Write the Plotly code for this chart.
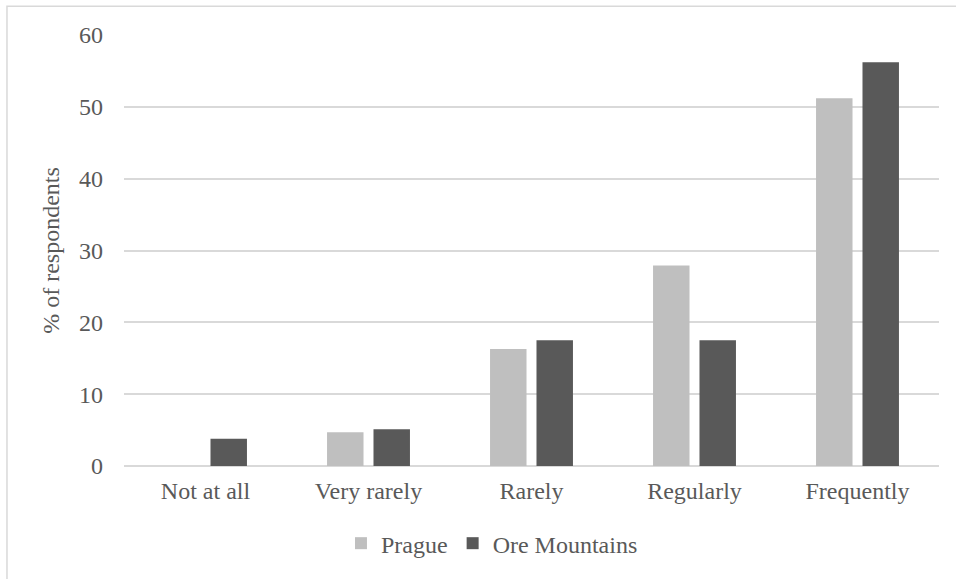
import plotly.graph_objects as go

categories = ["Not at all", "Very rarely", "Rarely", "Regularly", "Frequently"]
prague = [0.0, 4.7, 16.3, 27.9, 51.2]
ore_mountains = [3.8, 5.1, 17.5, 17.5, 56.2]
y_ticks = [0, 10, 20, 30, 40, 50, 60]

FONT = "Liberation Serif, Times New Roman, serif"
TEXT = "#595959"
GRID = "#d9d9d9"
SIZE = 24

fig = go.Figure()
fig.add_trace(go.Bar(name="Prague", x=categories, y=prague,
                     marker=dict(color="#bfbfbf", line=dict(width=0))))
fig.add_trace(go.Bar(name="Ore Mountains", x=categories, y=ore_mountains,
                     marker=dict(color="#595959", line=dict(width=0))))

fig.update_layout(
    width=956, height=579,
    margin=dict(l=124, r=17, t=35, b=113),
    paper_bgcolor="white", plot_bgcolor="white",
    barmode="group", bargap=0.43, bargroupgap=0.215,
    font=dict(family=FONT, size=SIZE, color=TEXT),
    showlegend=True,
    legend=dict(orientation="h", x=0.4515, xanchor="center",
                y=-0.18, yanchor="middle",
                font=dict(family=FONT, size=SIZE, color=TEXT),
                itemwidth=30, traceorder="normal"),
    xaxis=dict(showgrid=False, showline=False, zeroline=False,
               ticks="", ticklabelstandoff=8,
               tickfont=dict(family=FONT, size=SIZE, color=TEXT)),
    yaxis=dict(range=[0, 60], tickvals=y_ticks,
               showgrid=True, gridcolor=GRID, gridwidth=1.5,
               zeroline=True, zerolinecolor=GRID, zerolinewidth=1.5,
               showline=False, ticks="", ticklabelstandoff=20,
               tickfont=dict(family=FONT, size=SIZE, color=TEXT),
               title=dict(text="% of respondents", standoff=12,
                          font=dict(family=FONT, size=SIZE, color=TEXT))),
    shapes=[dict(type="path", xref="paper", yref="paper",
                 path="M -0.1436,-0.3 L -0.1436,1.0666 L 1.1,1.0666",
                 line=dict(color=GRID, width=1.5))],
)

fig.write_html("out.html")
